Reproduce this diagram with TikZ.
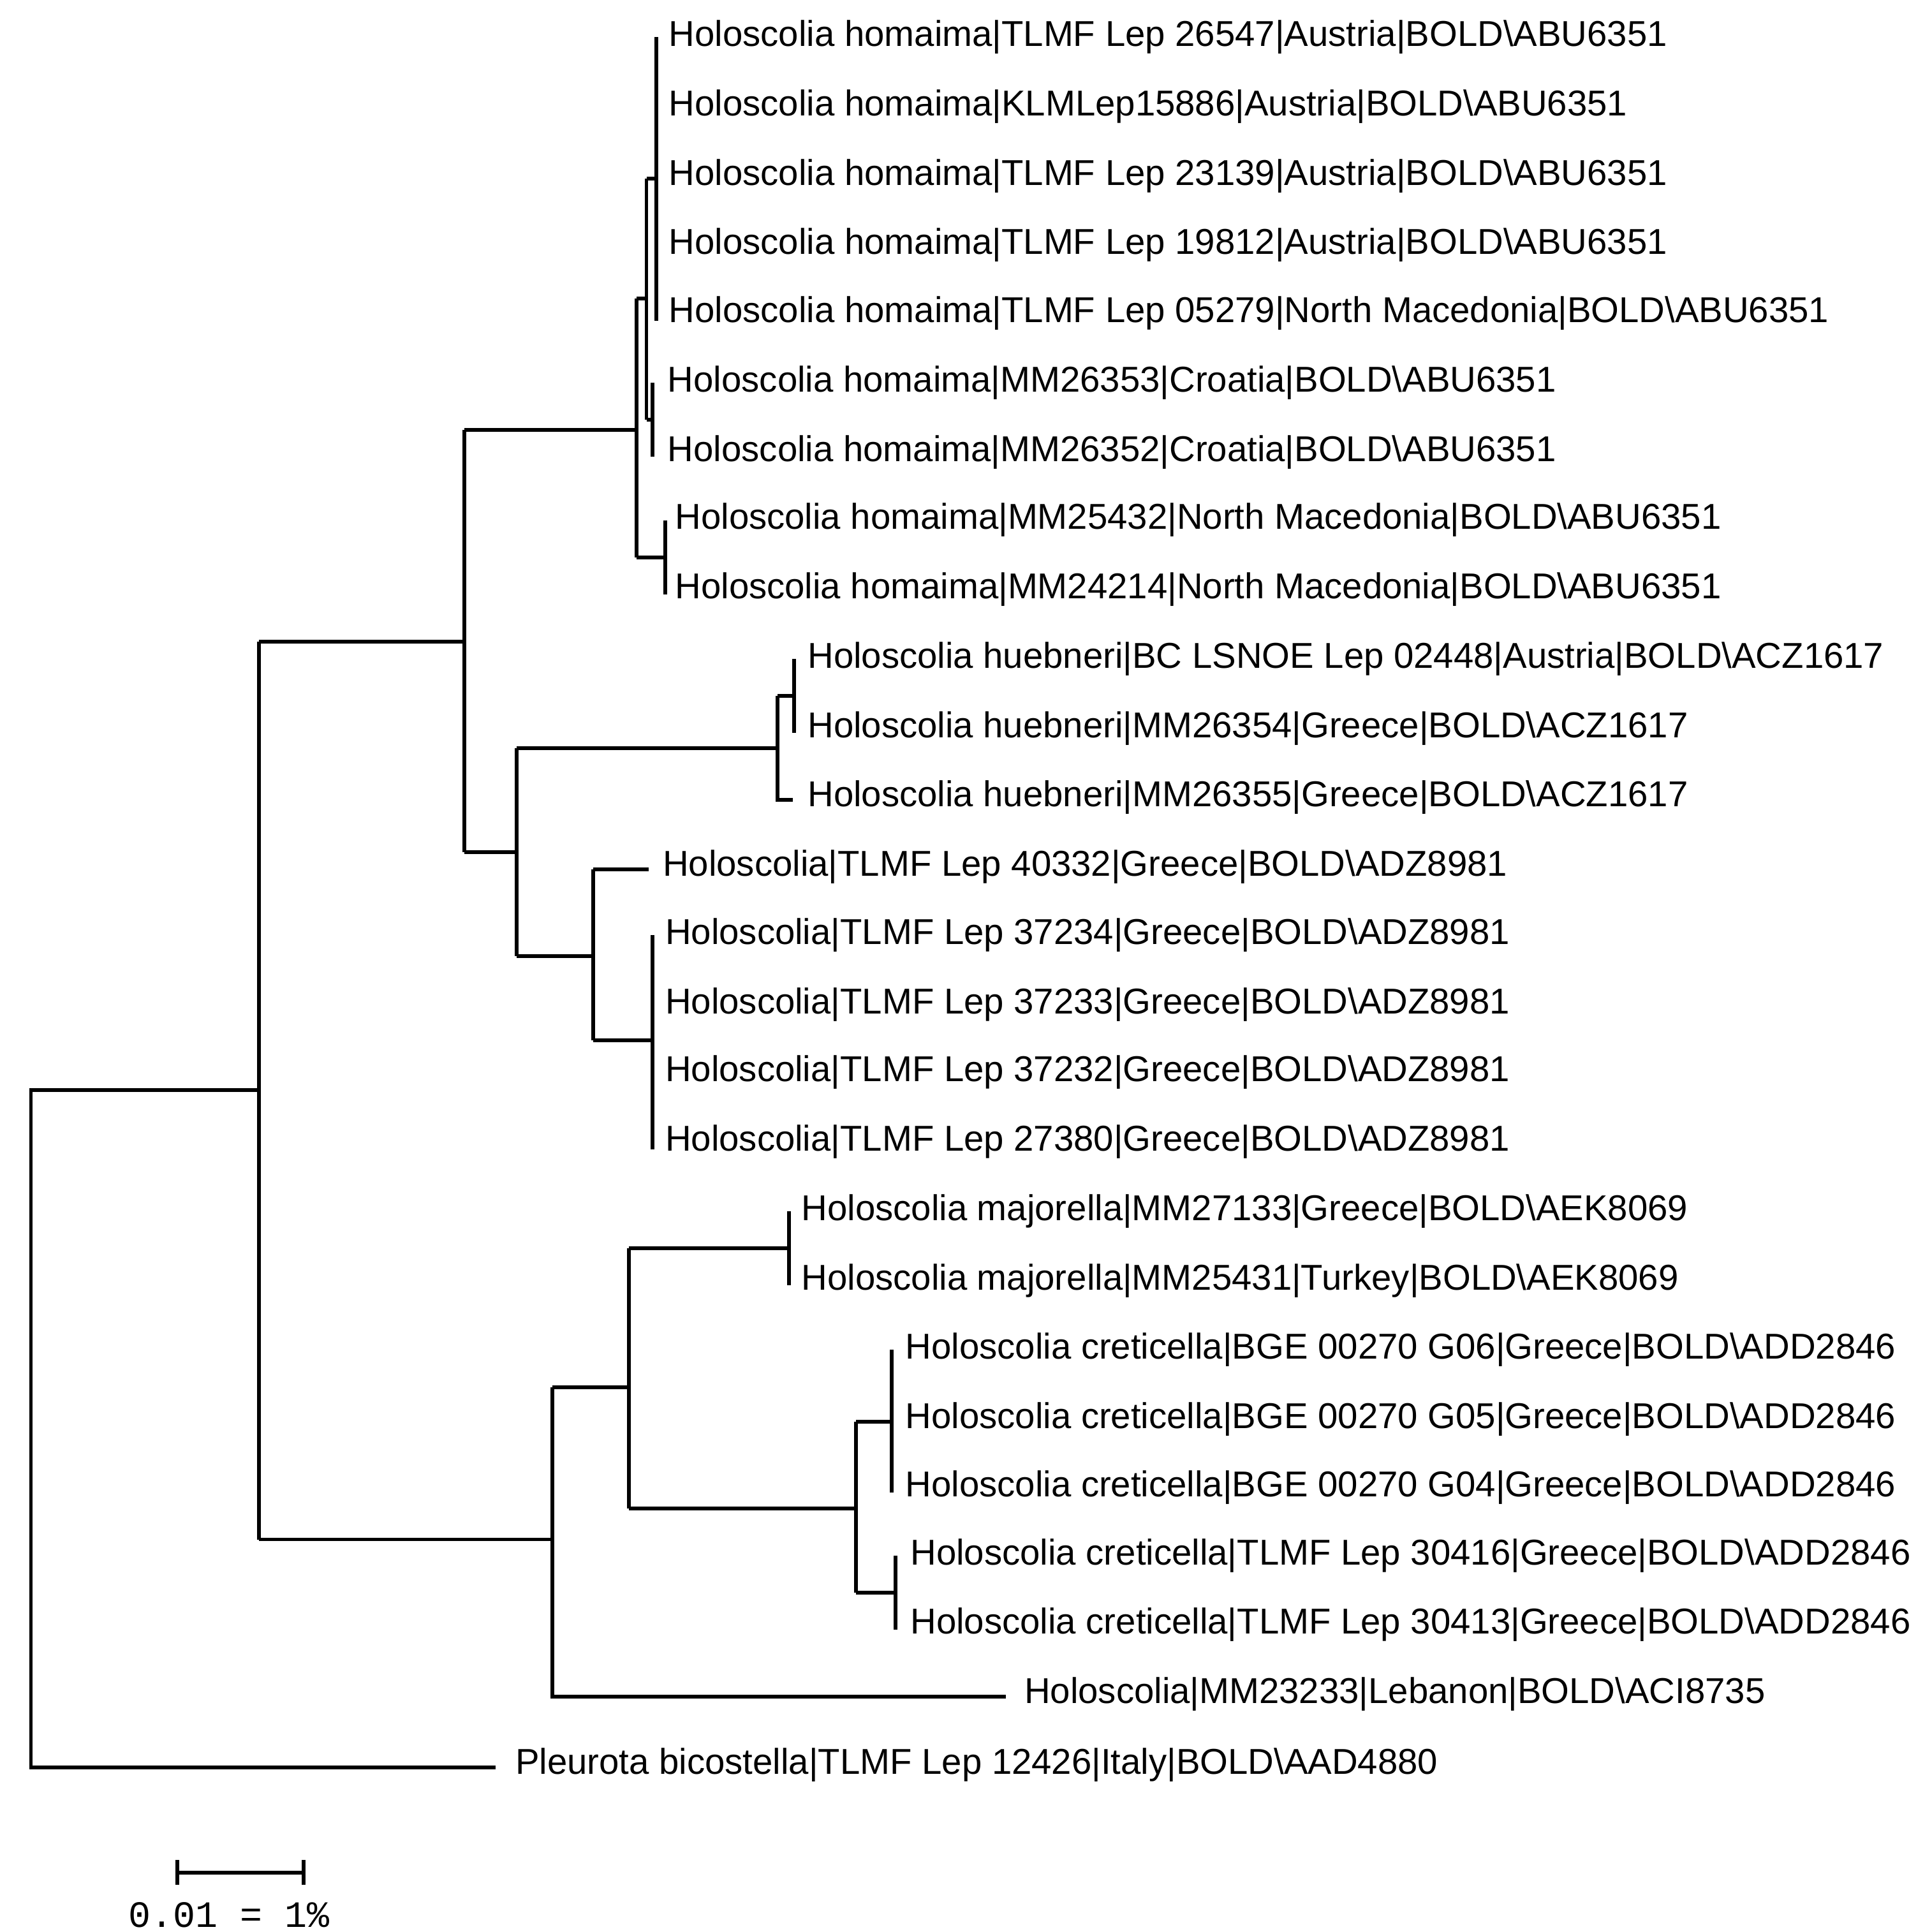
\documentclass[tikz,border=0pt]{standalone}
\usepackage{fontspec}
\setmainfont{Liberation Sans}
\newfontfamily\barfont{Liberation Mono}
\begin{document}
\begin{tikzpicture}[x=1pt,y=-1pt,
  br/.style={line width=3pt},
  lab/.style={anchor=west,inner sep=0pt,font=\fontsize{29}{32}\selectfont}]
\useasboundingbox (0,0) rectangle (1560,1560);
% labels
\begin{scope}[yshift=2pt]
\node[lab] (l1) at (540,32) {Holoscolia homaima|TLMF Lep 26547|Austria|BOLD\textbackslash ABU6351};
\node[lab] (l2) at (540,88) {Holoscolia homaima|KLMLep15886|Austria|BOLD\textbackslash ABU6351};
\node[lab] (l3) at (540,144) {Holoscolia homaima|TLMF Lep 23139|Austria|BOLD\textbackslash ABU6351};
\node[lab] (l4) at (540,200) {Holoscolia homaima|TLMF Lep 19812|Austria|BOLD\textbackslash ABU6351};
\node[lab] (l5) at (540,255) {Holoscolia homaima|TLMF Lep 05279|North Macedonia|BOLD\textbackslash ABU6351};
\node[lab] (l6) at (539,311) {Holoscolia homaima|MM26353|Croatia|BOLD\textbackslash ABU6351};
\node[lab] (l7) at (539,367) {Holoscolia homaima|MM26352|Croatia|BOLD\textbackslash ABU6351};
\node[lab] (l8) at (545,422) {Holoscolia homaima|MM25432|North Macedonia|BOLD\textbackslash ABU6351};
\node[lab] (l9) at (545,478) {Holoscolia homaima|MM24214|North Macedonia|BOLD\textbackslash ABU6351};
\node[lab] (l10) at (652,534) {Holoscolia huebneri|BC LSNOE Lep 02448|Austria|BOLD\textbackslash ACZ1617};
\node[lab] (l11) at (652,590) {Holoscolia huebneri|MM26354|Greece|BOLD\textbackslash ACZ1617};
\node[lab] (l12) at (652,646) {Holoscolia huebneri|MM26355|Greece|BOLD\textbackslash ACZ1617};
\node[lab] (l13) at (535,702) {Holoscolia|TLMF Lep 40332|Greece|BOLD\textbackslash ADZ8981};
\node[lab] (l14) at (537,757) {Holoscolia|TLMF Lep 37234|Greece|BOLD\textbackslash ADZ8981};
\node[lab] (l15) at (537,813) {Holoscolia|TLMF Lep 37233|Greece|BOLD\textbackslash ADZ8981};
\node[lab] (l16) at (537,868) {Holoscolia|TLMF Lep 37232|Greece|BOLD\textbackslash ADZ8981};
\node[lab] (l17) at (537,924) {Holoscolia|TLMF Lep 27380|Greece|BOLD\textbackslash ADZ8981};
\node[lab] (l18) at (647,980) {Holoscolia majorella|MM27133|Greece|BOLD\textbackslash AEK8069};
\node[lab] (l19) at (647,1036) {Holoscolia majorella|MM25431|Turkey|BOLD\textbackslash AEK8069};
\node[lab] (l20) at (731,1092) {Holoscolia creticella|BGE 00270 G06|Greece|BOLD\textbackslash ADD2846};
\node[lab] (l21) at (731,1148) {Holoscolia creticella|BGE 00270 G05|Greece|BOLD\textbackslash ADD2846};
\node[lab] (l22) at (731,1203) {Holoscolia creticella|BGE 00270 G04|Greece|BOLD\textbackslash ADD2846};
\node[lab] (l23) at (735,1258) {Holoscolia creticella|TLMF Lep 30416|Greece|BOLD\textbackslash ADD2846};
\node[lab] (l24) at (735,1314) {Holoscolia creticella|TLMF Lep 30413|Greece|BOLD\textbackslash ADD2846};
\node[lab] (l25) at (827,1370) {Holoscolia|MM23233|Lebanon|BOLD\textbackslash ACI8735};
\node[lab] (l26) at (416,1427) {Pleurota bicostella|TLMF Lep 12426|Italy|BOLD\textbackslash AAD4880};
\end{scope}
% tree
\begin{scope}[br]
\draw (25,880) -- (209,880);
\draw (25,878.5) -- (25,1427) -- (400,1427);
\draw (209,518) -- (209,1243);
\draw (209,518) -- (375,518);
\draw (375,347) -- (375,688);
\draw (375,347) -- (514,347);
\draw (514,241) -- (514,450);
\draw (514,241) -- (522,241);
\draw (522,144) -- (522,339);
\draw (522,144) -- (530,144);
\draw (530,30) -- (530,259);
\draw (522,339) -- (527,339);
\draw (527,309) -- (527,369);
\draw (514,450) -- (537,450);
\draw (537,420) -- (537,480);
\draw (375,688) -- (417,688);
\draw (417,604) -- (417,772);
\draw (417,604) -- (628,604);
\draw (628,562) -- (628,646) -- (640,646);
\draw (628,562) -- (641,562);
\draw (641,532) -- (641,592);
\draw (417,772) -- (479,772);
\draw (479,702) -- (479,840);
\draw (479,702) -- (524,702);
\draw (479,840) -- (527,840);
\draw (527,755) -- (527,928);
\draw (209,1243) -- (446,1243);
\draw (446,1120) -- (446,1370) -- (812,1370);
\draw (446,1120) -- (508,1120);
\draw (508,1008) -- (508,1218);
\draw (508,1008) -- (637,1008);
\draw (637,978) -- (637,1038);
\draw (508,1218) -- (691,1218);
\draw (691,1148) -- (691,1286);
\draw (691,1148) -- (720,1148);
\draw (720,1090) -- (720,1205);
\draw (691,1286) -- (723,1286);
\draw (723,1256) -- (723,1316);
\coordinate (s1) at (143,1512);
\coordinate (s2) at (245,1512);
\draw (s1) -- (s2);
\draw (143,1502) -- (143,1522);
\draw (245,1502) -- (245,1522);
\end{scope}
\node[font=\barfont\fontsize{30}{32}\selectfont,inner sep=0pt] (sb) at (185,1546) {0.01 = 1\%};
\end{tikzpicture}
\end{document}
